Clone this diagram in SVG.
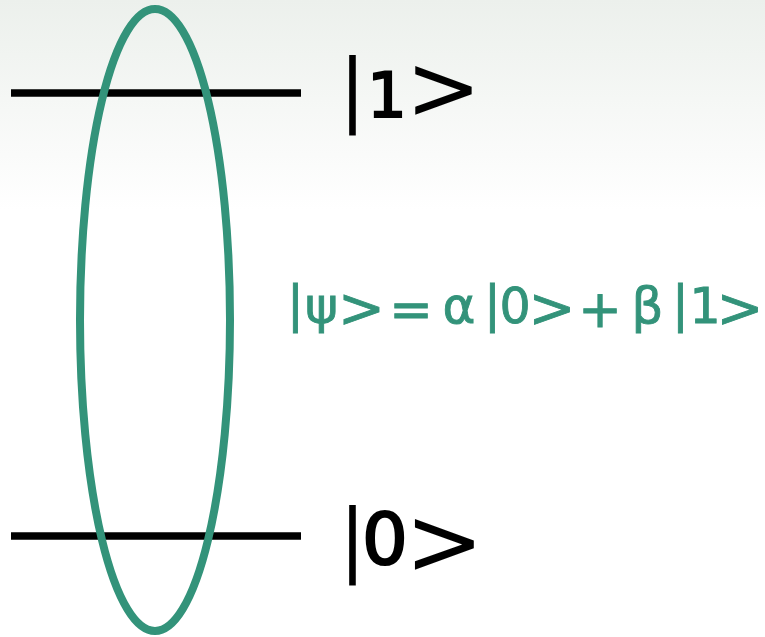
<svg xmlns="http://www.w3.org/2000/svg" width="765" height="637" viewBox="0 0 765 637">
<defs>
<linearGradient id="bg" x1="0" y1="0" x2="0" y2="1">
<stop offset="0" stop-color="#ecf0ec"/>
<stop offset="0.33" stop-color="#ffffff"/>
<stop offset="1" stop-color="#ffffff"/>
</linearGradient>
<style>
.lvl{stroke:#000;stroke-width:7.5;fill:none}
text{font-family:"DejaVu Sans",sans-serif;text-anchor:middle}
.k{fill:#000}
.kd{stroke:#000;stroke-width:2.2}
.eq{fill:#33937a;stroke:#33937a;stroke-width:0.9}
</style>
</defs>
<rect width="765" height="637" fill="url(#bg)"/>
<g id="level1">
<line class="lvl" x1="11" y1="93" x2="301" y2="93"/>
<text class="k" font-size="80" x="352.5" y="116">|</text>
<text class="k kd" font-size="62" x="387" y="117">1</text>
<text class="k" font-size="90" x="443.5" y="119">&gt;</text>
</g>
<g id="level0">
<line class="lvl" x1="11" y1="536" x2="301" y2="536"/>
<text class="k" font-size="80" x="352.5" y="566">|</text>
<text class="k kd" font-size="72" x="385" y="564">0</text>
<text class="k" font-size="94" x="444.5" y="574">&gt;</text>
</g>
<g id="state"><ellipse cx="155" cy="320" rx="75" ry="311" fill="none" stroke="#33937a" stroke-width="8"/></g>
<g id="equation">
<text class="eq" font-size="50" x="295.5" y="321">|</text>
<text class="eq" font-size="50" x="321.5" y="323">ψ</text>
<text class="eq" font-size="56" x="361.5" y="327">&gt;</text>
<text class="eq" font-size="52" x="411" y="327">=</text>
<text class="eq" font-size="50" x="459" y="323">α</text>
<text class="eq" font-size="50" x="492.5" y="321">|</text>
<text class="eq" font-size="49" x="515" y="323">0</text>
<text class="eq" font-size="56" x="552" y="327">&gt;</text>
<text class="eq" font-size="52" x="600" y="327">+</text>
<text class="eq" font-size="50" x="647.5" y="323">β</text>
<text class="eq" font-size="50" x="680.5" y="321">|</text>
<text class="eq" font-size="49" x="705" y="323">1</text>
<text class="eq" font-size="56" x="740" y="327">&gt;</text>
</g>
</svg>
